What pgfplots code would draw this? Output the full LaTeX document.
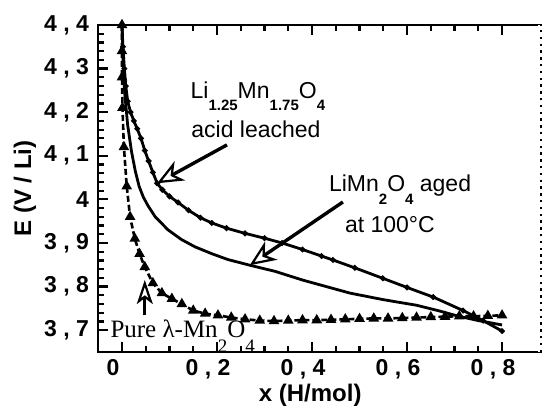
\documentclass[border=0pt]{standalone}
\usepackage{fontspec}
\setmainfont{Liberation Sans}
\newfontfamily\timesfont{Liberation Serif}
\usepackage{pgfplots}
\pgfplotsset{compat=1.18}
\usetikzlibrary{arrows.meta,calc}

\newcommand{\sub}[1]{\raisebox{-0.55em}{\fontsize{7.5}{8}\selectfont\bfseries #1}}
\newcommand{\tsub}[1]{\raisebox{-0.6em}{\fontsize{9.5}{10}\selectfont #1}}

% acid leached Li1.25Mn1.75O4
\pgfplotstableread{
x y
0.000 4.400
0.002 4.350
0.005 4.300
0.008 4.260
0.012 4.225
0.018 4.200
0.025 4.180
0.032 4.162
0.040 4.140
0.048 4.112
0.056 4.088
0.065 4.062
0.074 4.037
0.085 4.022
0.100 4.007
0.118 3.993
0.140 3.975
0.165 3.958
0.189 3.946
0.220 3.934
0.259 3.922
0.300 3.911
0.337 3.900
0.380 3.885
0.420 3.870
0.444 3.861
0.490 3.843
0.549 3.819
0.600 3.798
0.655 3.776
0.718 3.745
0.760 3.722
0.800 3.698
}\acid

% LiMn2O4 aged at 100 C
\pgfplotstableread{
x y
0.000 4.400
0.002 4.320
0.006 4.240
0.012 4.170
0.020 4.110
0.028 4.065
0.036 4.030
0.045 4.005
0.055 3.985
0.070 3.960
0.097 3.930
0.125 3.908
0.154 3.891
0.190 3.875
0.223 3.862
0.269 3.849
0.322 3.835
0.380 3.815
0.430 3.800
0.480 3.785
0.550 3.770
0.621 3.757
0.665 3.745
0.705 3.733
0.750 3.722
0.800 3.712
}\aged

% pure lambda-MnO2
\pgfplotstableread{
x y
0.000 4.400
0.000 4.340
0.000 4.280
0.001 4.210
0.004 4.120
0.010 4.030
0.017 3.960
0.027 3.910
0.037 3.875
0.048 3.845
0.065 3.808
0.084 3.785
0.105 3.772
0.126 3.760
0.150 3.745
0.175 3.738
0.202 3.734
0.230 3.729
0.259 3.725
0.290 3.722
0.320 3.721
0.350 3.722
0.380 3.723
0.410 3.723
0.440 3.724
0.470 3.725
0.500 3.726
0.530 3.727
0.560 3.727
0.590 3.728
0.620 3.729
0.650 3.730
0.680 3.731
0.710 3.732
0.740 3.732
0.770 3.733
0.800 3.734
}\pure

\begin{document}
\begin{tikzpicture}
\begin{axis}[
    name=ax,
    scale only axis,
    width=221.5pt, height=163.5pt,
    xmin=-0.0505, xmax=0.882,
    ymin=3.65, ymax=4.4,
    clip=false,
    xtick={0,0.2,0.4,0.6,0.8},
    xticklabels={0,{0 , 2},{0 , 4},{0 , 6},{0 , 8}},
    ytick={3.7,3.8,3.9,4.0,4.1,4.2,4.3,4.4},
    yticklabels={{3 , 7},{3 , 8},{3 , 9},4,{4 , 1},{4 , 2},{4 , 3},{4 , 4}},
    minor x tick num=3,
    minor y tick num=4,
    xtick pos=both,
    ytick pos=left,
    major tick length=5pt,
    minor tick length=3pt,
    tick style={line width=1.1pt, black},
    axis line style={line width=1.4pt},
    ticklabel style={font=\fontsize{11.5}{13}\selectfont\bfseries},
    xticklabel style={xshift=-4.5pt},
    yticklabel style={xshift=-1pt},
    xlabel={x (H/mol)},
    ylabel={E (V / Li)},
    label style={font=\fontsize{12}{14}\selectfont\bfseries},
    xlabel style={at={(axis description cs:0.479,-0.1315)}, anchor=center},
    ylabel style={at={(axis description cs:-0.165,0.5)}, anchor=center},
]
\addplot[black, line width=1.4pt, mark=*, mark size=0.6pt] table {\acid};
\addplot[black, line width=1.4pt] table {\aged};
\addplot[black, line width=1.3pt, dash pattern=on 3pt off 1.5pt,
    mark=triangle*, mark size=1.8pt, mark options={solid}] table {\pure};

\node[anchor=base, font=\fontsize{11.5}{13}\selectfont]
    at (axis cs:0.286,4.232) {Li\sub{1.25}Mn\sub{1.75}O\sub{4}};
\node[anchor=base, font=\fontsize{11.5}{13}\selectfont]
    at (axis cs:0.282,4.143) {acid leached};
\draw[line width=1.7pt, -{Stealth[open, length=13pt, width=11pt, inset=4pt, line width=1.1pt]}]
    (axis cs:0.221,4.125) -- (axis cs:0.074,4.037);

\node[anchor=base west, font=\fontsize{11.5}{13}\selectfont]
    at (axis cs:0.421,4.017) {LiMn\sub{2}O\sub{4} aged};
\node[anchor=base, font=\fontsize{11.5}{13}\selectfont]
    at (axis cs:0.564,3.925) {at 100°C};
\draw[line width=1.7pt, -{Stealth[open, length=13pt, width=11pt, inset=4pt, line width=1.1pt]}]
    (axis cs:0.465,3.994) -- (axis cs:0.269,3.849);

\node[anchor=base west, inner sep=0pt, font=\timesfont\fontsize{12.5}{14}\selectfont]
    at (axis cs:-0.025,3.684) {Pure λ-Mn\tsub{2}O\tsub{4}};
\draw[line width=1.7pt, -{Stealth[open, length=12pt, width=8pt, inset=3pt, line width=1.1pt]}]
    (axis cs:0.048,3.734) -- (axis cs:0.048,3.815);
\end{axis}
\draw[white, line width=3pt] (ax.south east) -- (ax.north east);
\draw[line width=1.4pt, dash pattern=on 1.2pt off 2.2pt] (ax.south east) -- (ax.north east);
\pgfresetboundingbox
\path ($(ax.south west)+(-49pt,-29pt)$) rectangle ($(ax.north east)+(1.5pt,12.5pt)$);
\end{tikzpicture}
\end{document}
